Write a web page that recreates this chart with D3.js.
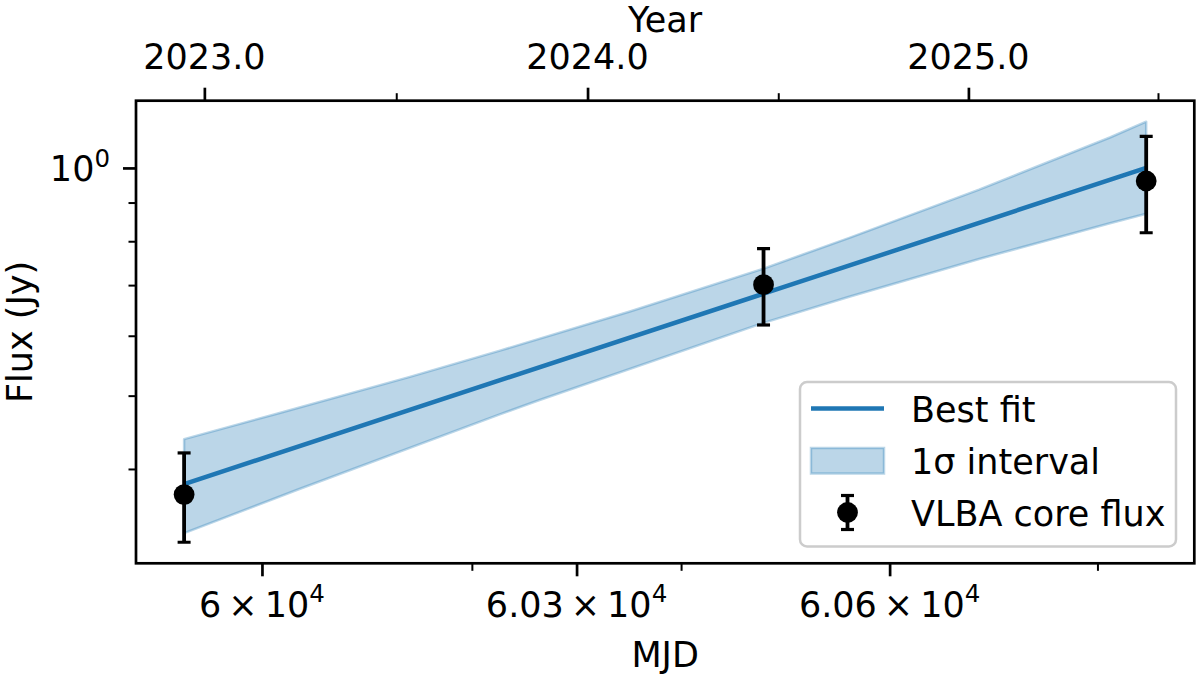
<!DOCTYPE html>
<html>
<head>
<meta charset="utf-8">
<script src="https://cdn.jsdelivr.net/npm/d3@7"></script>
<style>
  body { margin: 0; background: #fff; }
  svg { display: block; font-family: "DejaVu Sans", sans-serif; }
</style>
</head>
<body>
<svg id="chart" width="1200" height="674"></svg>
<script>
// observations (VLBA core flux)
const obsMjd = [59926, 60479, 60847];
const obsFlux = [0.370, 0.701, 0.961];
const obsErr = [0.050, 0.081, 0.140];

// best fit line
const fitMjd = [59926, 60479, 60847];
const fitFlux = [0.382, 0.682, 1.000];

// 1 sigma band, upper and lower edges
const bandUpperMjd = [59926, 60016, 60140, 60226, 60351, 60479, 60562, 60686, 60812, 60847];
const bandUpperFlux = [0.438, 0.474, 0.529, 0.573, 0.646, 0.736, 0.809, 0.936, 1.097, 1.151];
const bandLowerMjd = [59926, 60035, 60226, 60264, 60479, 60562, 60686, 60812, 60847];
const bandLowerFlux = [0.329, 0.376, 0.472, 0.493, 0.624, 0.676, 0.758, 0.845, 0.870];

// ticks
const mjdMajor = [60000, 60300, 60600];
const mjdMajorMantissa = ['6', '6.03', '6.06'];
const mjdExponent = '4';
const mjdMinor = [60200, 60400, 60800];
const yearMajor = [2023.0, 2024.0, 2025.0];
const yearMajorLabels = ['2023.0', '2024.0', '2025.0'];
const yearMinor = [2023.5, 2024.5, 2025.5];
const fluxMajor = [1];
const fluxMinor = [0.4, 0.5, 0.6, 0.7, 0.8, 0.9];

const legendLabels = ['Best fit', '1\u03c3 interval', 'VLBA core flux'];

const blue = '#1f77b4';
const fontSize = 35;
const plot = { left: 136, right: 1194.3, top: 100.7, bottom: 563.3 };

const yearToMjd = yr => 51544.5 + (yr - 2000) * 365.25;

// matplotlib-like 5% margins in log space
function logPad(lo, hi) {
  const a = Math.log10(lo), b = Math.log10(hi);
  const p = (b - a) * 0.05;
  return [Math.pow(10, a - p), Math.pow(10, b + p)];
}

const allMjd = obsMjd.concat(bandUpperMjd, bandLowerMjd, fitMjd);
const yLo = d3.min(bandLowerFlux.concat(obsFlux.map((f, i) => f - obsErr[i])));
const yHi = d3.max(bandUpperFlux.concat(obsFlux.map((f, i) => f + obsErr[i])));

const x = d3.scaleLog().domain(logPad(d3.min(allMjd), d3.max(allMjd))).range([plot.left, plot.right]);
const y = d3.scaleLog().domain(logPad(yLo, yHi)).range([plot.bottom, plot.top]);

const svg = d3.select('#chart');
svg.append('rect').attr('width', 1200).attr('height', 674).attr('fill', '#fff');

svg.append('clipPath').attr('id', 'clip')
  .append('rect')
  .attr('x', plot.left).attr('y', plot.top)
  .attr('width', plot.right - plot.left).attr('height', plot.bottom - plot.top);

const data = svg.append('g').attr('clip-path', 'url(#clip)');

// band polygon: upper edge forward, lower edge back
const bandPts = bandUpperMjd.map((m, i) => [m, bandUpperFlux[i]])
  .concat(bandLowerMjd.map((m, i) => [m, bandLowerFlux[i]]).reverse());
const line = d3.line().x(d => x(d[0])).y(d => y(d[1]));

data.append('path')
  .attr('d', line(bandPts) + 'Z')
  .attr('fill', blue).attr('fill-opacity', 0.3)
  .attr('stroke', blue).attr('stroke-opacity', 0.3).attr('stroke-width', 2.5)
  .attr('stroke-linejoin', 'round');

data.append('path')
  .attr('d', line(fitMjd.map((m, i) => [m, fitFlux[i]])))
  .attr('fill', 'none').attr('stroke', blue).attr('stroke-width', 4.5);

// error bars
const eb = data.selectAll('.obs').data(obsMjd.map((m, i) => ({ m, f: obsFlux[i], e: obsErr[i] })))
  .enter().append('g').attr('class', 'obs');
eb.append('line')
  .attr('x1', d => x(d.m)).attr('x2', d => x(d.m))
  .attr('y1', d => y(d.f - d.e)).attr('y2', d => y(d.f + d.e))
  .attr('stroke', '#000').attr('stroke-width', 3.8);
[-1, 1].forEach(s => {
  eb.append('line')
    .attr('x1', d => x(d.m) - 6.5).attr('x2', d => x(d.m) + 6.5)
    .attr('y1', d => y(d.f + s * d.e)).attr('y2', d => y(d.f + s * d.e))
    .attr('stroke', '#000').attr('stroke-width', 3.2);
});
eb.append('circle')
  .attr('cx', d => x(d.m)).attr('cy', d => y(d.f)).attr('r', 10.4)
  .attr('fill', '#000');

// axes
function styleAxis(g, width) {
  g.select('.domain').remove();
  g.selectAll('.tick line').attr('stroke', '#000').attr('stroke-width', width);
}

svg.append('g').attr('transform', `translate(0,${plot.bottom})`)
  .call(d3.axisBottom(x).tickValues(mjdMajor).tickSize(13).tickFormat(''))
  .call(g => styleAxis(g, 2.7));
svg.append('g').attr('transform', `translate(0,${plot.bottom})`)
  .call(d3.axisBottom(x).tickValues(mjdMinor).tickSize(7.5).tickFormat(''))
  .call(g => styleAxis(g, 2));

svg.append('g').attr('transform', `translate(0,${plot.top})`)
  .call(d3.axisTop(x).tickValues(yearMajor.map(yearToMjd)).tickSize(13).tickFormat(''))
  .call(g => styleAxis(g, 2.7));
svg.append('g').attr('transform', `translate(0,${plot.top})`)
  .call(d3.axisTop(x).tickValues(yearMinor.map(yearToMjd)).tickSize(7.5).tickFormat(''))
  .call(g => styleAxis(g, 2));

svg.append('g').attr('transform', `translate(${plot.left},0)`)
  .call(d3.axisLeft(y).tickValues(fluxMajor).tickSize(13).tickFormat(''))
  .call(g => styleAxis(g, 2.7));
svg.append('g').attr('transform', `translate(${plot.left},0)`)
  .call(d3.axisLeft(y).tickValues(fluxMinor).tickSize(7.5).tickFormat(''))
  .call(g => styleAxis(g, 2));

// tick labels
const xLab = svg.selectAll('.xlab').data(mjdMajor).enter().append('text')
  .attr('class', 'xlab')
  .attr('x', d => x(d)).attr('y', 616.5)
  .attr('text-anchor', 'middle').attr('font-size', fontSize);
xLab.append('tspan').text((d, i) => mjdMajorMantissa[i] + '\u2009\u00d7\u200910');
xLab.append('tspan').attr('dy', -15).attr('font-size', fontSize * 0.7).text(mjdExponent);

svg.selectAll('.toplab').data(yearMajor).enter().append('text')
  .attr('x', d => x(yearToMjd(d))).attr('y', 68.5)
  .attr('text-anchor', 'middle').attr('font-size', fontSize)
  .text((d, i) => yearMajorLabels[i]);

const yLab = svg.selectAll('.ylab').data(fluxMajor).enter().append('text')
  .attr('x', 110).attr('y', d => y(d) + 13)
  .attr('text-anchor', 'end').attr('font-size', fontSize);
yLab.append('tspan').text('10');
yLab.append('tspan').attr('dy', -14).attr('font-size', fontSize * 0.7).text('0');

// axis titles
svg.append('text').attr('x', (plot.left + plot.right) / 2).attr('y', 667)
  .attr('text-anchor', 'middle').attr('font-size', fontSize).text('MJD');
svg.append('text').attr('x', (plot.left + plot.right) / 2).attr('y', 32)
  .attr('text-anchor', 'middle').attr('font-size', fontSize).text('Year');
svg.append('text')
  .attr('transform', `translate(32,${(plot.top + plot.bottom) / 2}) rotate(-90)`)
  .attr('text-anchor', 'middle').attr('font-size', fontSize).text('Flux (Jy)');

// frame
svg.append('rect')
  .attr('x', plot.left).attr('y', plot.top)
  .attr('width', plot.right - plot.left).attr('height', plot.bottom - plot.top)
  .attr('fill', 'none').attr('stroke', '#000').attr('stroke-width', 2.7);

// legend
const lg = svg.append('g');
lg.append('rect')
  .attr('x', 800).attr('y', 382).attr('width', 376).attr('height', 164.5)
  .attr('rx', 7).attr('fill', '#fff').attr('fill-opacity', 0.8)
  .attr('stroke', '#cccccc').attr('stroke-width', 2.5);

const rowY = [408.5, 460.5, 512.5];
lg.append('line').attr('x1', 811).attr('x2', 884).attr('y1', rowY[0]).attr('y2', rowY[0])
  .attr('stroke', blue).attr('stroke-width', 4.5);
lg.append('rect').attr('x', 811).attr('y', rowY[1] - 12.5).attr('width', 73).attr('height', 25.5)
  .attr('fill', blue).attr('fill-opacity', 0.3)
  .attr('stroke', blue).attr('stroke-opacity', 0.3).attr('stroke-width', 2.5);
lg.append('line').attr('x1', 847.5).attr('x2', 847.5).attr('y1', rowY[2] - 17).attr('y2', rowY[2] + 17)
  .attr('stroke', '#000').attr('stroke-width', 3.8);
[-17, 17].forEach(dy => {
  lg.append('line').attr('x1', 841).attr('x2', 854).attr('y1', rowY[2] + dy).attr('y2', rowY[2] + dy)
    .attr('stroke', '#000').attr('stroke-width', 3.2);
});
lg.append('circle').attr('cx', 847.5).attr('cy', rowY[2]).attr('r', 10.4).attr('fill', '#000');

lg.selectAll('.ltxt').data(legendLabels).enter().append('text')
  .attr('x', 911).attr('y', (d, i) => rowY[i] + 13)
  .attr('font-size', fontSize).text(d => d);
</script>
</body>
</html>
